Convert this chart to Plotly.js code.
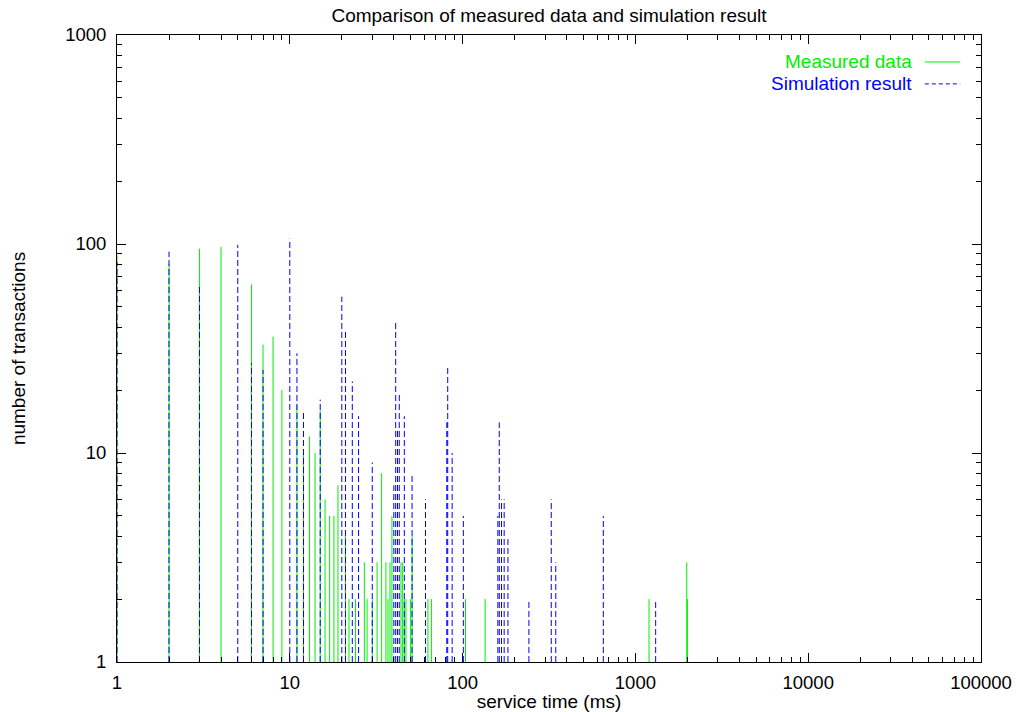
<!DOCTYPE html>
<html>
<head>
<meta charset="utf-8">
<script src="https://cdn.plot.ly/plotly-3.0.1.min.js"></script>
<style>
  html, body { margin: 0; padding: 0; background: #fff; }
  #chart { width: 1016px; height: 712px; }
</style>
</head>
<body>
<div id="chart"></div>
<script>
// Measured data: service time (ms) and number of transactions
const measuredTime  = [1, 2, 3, 4, 6, 7, 8, 9, 11, 12, 13, 14, 15, 16, 17, 18, 19, 21, 22, 24, 27, 28, 30, 32, 34, 36, 37, 38, 39, 44, 45, 46, 47, 50, 51, 63, 66, 104, 135, 1199, 1982, 2000];
const measuredCount = [88, 80, 95, 97, 64, 33, 36, 20, 17, 10, 12, 10, 16, 6, 5, 5, 7, 4, 2, 2, 3, 2, 2, 3, 8, 3, 2, 3, 5, 3, 3, 2, 2, 2, 4, 2, 2, 2, 2, 2, 3, 2];

// Simulation result
const simTime  = [1, 2, 3, 5, 6, 7, 10, 11, 12, 15, 20, 21, 23, 25, 30, 40, 41, 42, 43, 46, 51, 61, 81, 82, 87, 101, 160, 163, 168, 174, 183, 242, 326, 346, 652, 1310];
const simCount = [82, 92, 63, 99, 27, 25, 106, 30, 16, 18, 56, 38, 22, 15, 9, 7, 43, 13, 19, 15, 8, 6, 14, 26, 10, 5, 5, 14, 6, 6, 4, 2, 6, 3, 5, 2];

// Axis ticks (major, labelled)
const xTickVals = [1, 10, 100, 1000, 10000, 100000];
const xTickText = ["1", "10", "100", "1000", "10000", "100000"];
const yTickVals = [1, 10, 100, 1000];
const yTickText = ["1", "10", "100", "1000"];

const labels = {
  title: "Comparison of measured data and simulation result",
  xTitle: "service time (ms)",
  yTitle: "number of transactions",
  measured: "Measured data",
  sim: "Simulation result"
};

const GREEN = "#00ee00";
const BLUE = "#0000ff";

// minor tick positions 2..9 within each decade
function minorTicks(decades) {
  const out = [];
  for (let d = 0; d < decades; d++) {
    for (let k = 2; k <= 9; k++) out.push(k * Math.pow(10, d));
  }
  return out;
}

// impulses: vertical line from baseline (1) up to each value
function impulses(xs, ys) {
  const x = [], y = [];
  for (let i = 0; i < xs.length; i++) {
    x.push(xs[i], xs[i], null);
    y.push(1, ys[i], null);
  }
  return {x, y};
}

const m = impulses(measuredTime, measuredCount);
const s = impulses(simTime, simCount);

const FONT = "Liberation Sans, Arial, Helvetica, sans-serif";

const traces = [
  {
    x: m.x, y: m.y, type: "scatter", mode: "lines",
    line: {color: GREEN, width: 1}, connectgaps: false,
    name: labels.measured, showlegend: false, hoverinfo: "skip",
    cliponaxis: false
  },
  {
    x: s.x, y: s.y, type: "scatter", mode: "lines",
    line: {color: BLUE, width: 1, dash: "6px,3px"}, connectgaps: false,
    name: labels.sim, showlegend: false, hoverinfo: "skip",
    cliponaxis: false
  },
  // empty trace to carry the minor-tick overlay axes
  {x: [], y: [], type: "scatter", mode: "lines", xaxis: "x2", yaxis: "y2",
   showlegend: false, hoverinfo: "skip"}
];

const baseAxis = {
  type: "log",
  ticks: "inside", tickcolor: "#000", tickwidth: 1,
  showgrid: false, zeroline: false,
  tickfont: {family: FONT, size: 18.5, color: "#000"},
  automargin: false,
  fixedrange: true
};

const layout = {
  width: 1016, height: 712,
  margin: {l: 117, r: 35, t: 35, b: 50},
  paper_bgcolor: "#fff", plot_bgcolor: "#fff",
  font: {family: FONT, size: 19, color: "#000"},
  title: {
    text: labels.title,
    font: {family: FONT, size: 19, color: "#000"},
    x: 0.5, xref: "paper", xanchor: "center",
    y: 1, yref: "paper", yanchor: "bottom", pad: {b: 13}
  },
  xaxis: Object.assign({}, baseAxis, {
    range: [0, 5], layer: "below traces",
    showline: true, linecolor: "#000", linewidth: 1, mirror: "ticks",
    ticklen: 9,
    tickvals: xTickVals, ticktext: xTickText,
    ticklabelstandoff: 4,
    title: {text: labels.xTitle, font: {family: FONT, size: 19, color: "#000"}, standoff: 2}
  }),
  yaxis: Object.assign({}, baseAxis, {
    range: [0, 3], layer: "below traces",
    showline: true, linecolor: "#000", linewidth: 1, mirror: "ticks",
    ticklen: 9,
    tickvals: yTickVals, ticktext: yTickText,
    ticklabelstandoff: 6,
    title: {text: labels.yTitle, font: {family: FONT, size: 19, color: "#000"}, standoff: 34}
  }),
  xaxis2: Object.assign({}, baseAxis, {
    range: [0, 5], overlaying: "x", anchor: "y2", side: "bottom",
    showline: false, mirror: "ticks", ticklen: 5,
    tickvals: minorTicks(5), showticklabels: false
  }),
  yaxis2: Object.assign({}, baseAxis, {
    range: [0, 3], overlaying: "y", anchor: "x2", side: "left",
    showline: false, mirror: "ticks", ticklen: 5,
    tickvals: minorTicks(3), showticklabels: false
  }),
  showlegend: false,
  annotations: [
    {text: labels.measured, xref: "paper", yref: "paper", x: 0.922, y: 0.957,
     xanchor: "right", yanchor: "middle", showarrow: false,
     font: {family: FONT, size: 19, color: GREEN}},
    {text: labels.sim, xref: "paper", yref: "paper", x: 0.922, y: 0.922,
     xanchor: "right", yanchor: "middle", showarrow: false,
     font: {family: FONT, size: 19, color: BLUE}}
  ],
  shapes: [
    {type: "line", xref: "paper", yref: "paper", x0: 0.935, x1: 0.976, y0: 0.957, y1: 0.957,
     line: {color: GREEN, width: 1}},
    {type: "line", xref: "paper", yref: "paper", x0: 0.935, x1: 0.976, y0: 0.922, y1: 0.922,
     line: {color: BLUE, width: 1, dash: "4px,3px"}}
  ],
  hovermode: false
};

Plotly.newPlot("chart", traces, layout, {staticPlot: true, displayModeBar: false});
</script>
</body>
</html>
